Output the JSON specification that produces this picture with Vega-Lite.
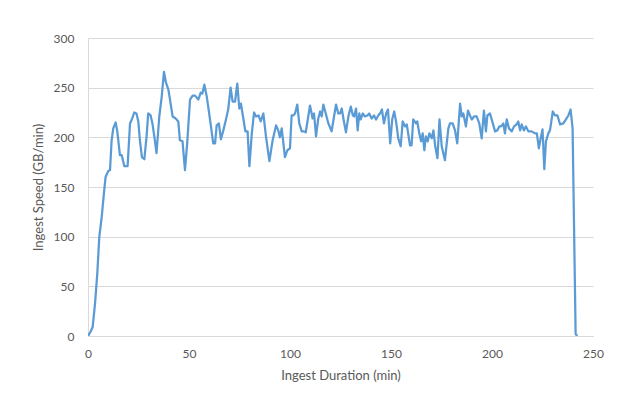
{
  "$schema": "https://vega.github.io/schema/vega-lite/v6.json",
  "width": 505,
  "height": 298,
  "autosize": "none",
  "padding": {"left": 88, "top": 38, "right": 25, "bottom": 58},
  "background": "white",
  "data": {"values": [
    {"t":0,"s":0},{"t":1.2,"s":4},{"t":2.3,"s":9},{"t":3.5,"s":33},{"t":4.6,"s":63},{"t":5.6,"s":100},{"t":6.8,"s":120},{"t":7.9,"s":144},{"t":8.7,"s":160},{"t":10,"s":166},{"t":10.9,"s":167},{"t":11.7,"s":197},{"t":12.5,"s":209},{"t":13.7,"s":215},{"t":14.5,"s":206},{"t":15.8,"s":182},{"t":16.7,"s":182},{"t":18,"s":171},{"t":19.6,"s":171},{"t":20.8,"s":214},{"t":21.9,"s":219},{"t":22.9,"s":225},{"t":24,"s":224},{"t":24.9,"s":216},{"t":25.7,"s":197},{"t":26.7,"s":180},{"t":27.9,"s":178},{"t":29,"s":201},{"t":29.8,"s":224},{"t":31,"s":222},{"t":31.9,"s":214},{"t":33.1,"s":197},{"t":33.9,"s":184},{"t":35.3,"s":221},{"t":36.5,"s":241},{"t":37.6,"s":266},{"t":38.6,"s":255},{"t":39.8,"s":248},{"t":40.9,"s":234},{"t":41.9,"s":221},{"t":43.4,"s":219},{"t":44.7,"s":216},{"t":45.5,"s":197},{"t":46.8,"s":196},{"t":48,"s":167},{"t":49.1,"s":194},{"t":50.5,"s":238},{"t":51.8,"s":242},{"t":53,"s":242},{"t":54.6,"s":238},{"t":55.8,"s":245},{"t":56.6,"s":244},{"t":57.6,"s":253},{"t":58.8,"s":241},{"t":60.4,"s":218},{"t":62,"s":194},{"t":62.9,"s":194},{"t":63.7,"s":212},{"t":64.8,"s":214},{"t":65.8,"s":198},{"t":67,"s":207},{"t":68.3,"s":218},{"t":69.4,"s":228},{"t":70.6,"s":250},{"t":71.6,"s":236},{"t":72.8,"s":236},{"t":73.9,"s":254},{"t":74.9,"s":229},{"t":75.7,"s":234},{"t":76.9,"s":219},{"t":77.9,"s":206},{"t":79,"s":206},{"t":79.9,"s":171},{"t":81.1,"s":204},{"t":82.2,"s":225},{"t":83.2,"s":221},{"t":84.4,"s":222},{"t":85.5,"s":216},{"t":86.8,"s":224},{"t":88.1,"s":201},{"t":89.8,"s":176},{"t":91.4,"s":197},{"t":93.1,"s":212},{"t":94.2,"s":207},{"t":95,"s":200},{"t":95.9,"s":209},{"t":97.5,"s":180},{"t":98.7,"s":187},{"t":100,"s":189},{"t":100.8,"s":222},{"t":101.6,"s":222},{"t":102.5,"s":224},{"t":103.6,"s":233},{"t":104.6,"s":214},{"t":105.8,"s":206},{"t":106.9,"s":206},{"t":107.8,"s":205},{"t":108.8,"s":218},{"t":109.9,"s":232},{"t":111.2,"s":219},{"t":111.9,"s":224},{"t":112.9,"s":201},{"t":114,"s":219},{"t":114.9,"s":226},{"t":115.7,"s":221},{"t":116.5,"s":233},{"t":117.7,"s":224},{"t":119,"s":214},{"t":120.6,"s":206},{"t":121.8,"s":221},{"t":122.8,"s":233},{"t":123.9,"s":224},{"t":124.8,"s":224},{"t":125.6,"s":229},{"t":126.7,"s":216},{"t":127.7,"s":205},{"t":128.9,"s":221},{"t":130.1,"s":231},{"t":131.1,"s":222},{"t":131.7,"s":221},{"t":132.7,"s":229},{"t":133.5,"s":207},{"t":134.3,"s":224},{"t":135,"s":218},{"t":136,"s":224},{"t":137.1,"s":221},{"t":138.3,"s":222},{"t":139.2,"s":224},{"t":140.4,"s":219},{"t":141.6,"s":222},{"t":142.6,"s":218},{"t":143.7,"s":222},{"t":144.9,"s":225},{"t":145.5,"s":228},{"t":146.5,"s":214},{"t":147.6,"s":224},{"t":148.5,"s":228},{"t":149.6,"s":194},{"t":150.6,"s":218},{"t":151.6,"s":226},{"t":152.5,"s":216},{"t":153.6,"s":199},{"t":154.8,"s":191},{"t":155.8,"s":216},{"t":156.9,"s":211},{"t":157.8,"s":213},{"t":159.4,"s":192},{"t":160.2,"s":192},{"t":161,"s":218},{"t":162.4,"s":214},{"t":163,"s":216},{"t":164,"s":204},{"t":164.9,"s":196},{"t":165.7,"s":204},{"t":166.5,"s":187},{"t":167.3,"s":201},{"t":168.2,"s":196},{"t":169,"s":204},{"t":170.2,"s":199},{"t":171,"s":207},{"t":171.9,"s":191},{"t":173,"s":179},{"t":174,"s":218},{"t":175.1,"s":191},{"t":176.7,"s":177},{"t":178.4,"s":209},{"t":179.2,"s":214},{"t":180.5,"s":214},{"t":181.7,"s":207},{"t":182.8,"s":194},{"t":184.2,"s":234},{"t":185,"s":221},{"t":185.8,"s":224},{"t":187.1,"s":211},{"t":188.1,"s":227},{"t":189.1,"s":222},{"t":190,"s":218},{"t":191.1,"s":221},{"t":192.4,"s":221},{"t":193.7,"s":214},{"t":194.9,"s":199},{"t":196,"s":227},{"t":197,"s":206},{"t":197.7,"s":222},{"t":199,"s":224},{"t":200.4,"s":214},{"t":201.5,"s":206},{"t":202.6,"s":207},{"t":203.6,"s":211},{"t":204.5,"s":211},{"t":205.6,"s":214},{"t":206.4,"s":204},{"t":207.3,"s":218},{"t":208.4,"s":209},{"t":209.8,"s":206},{"t":210.9,"s":211},{"t":212.2,"s":213},{"t":213,"s":216},{"t":213.9,"s":207},{"t":214.7,"s":213},{"t":215.8,"s":207},{"t":216.8,"s":211},{"t":218,"s":206},{"t":219.6,"s":206},{"t":221.3,"s":204},{"t":222.2,"s":204},{"t":223.2,"s":189},{"t":224.1,"s":199},{"t":225,"s":208},{"t":225.9,"s":168},{"t":226.7,"s":196},{"t":227.9,"s":204},{"t":228.7,"s":207},{"t":230.1,"s":226},{"t":231.2,"s":222},{"t":232.4,"s":222},{"t":233.7,"s":213},{"t":235.3,"s":214},{"t":236.6,"s":218},{"t":237.8,"s":222},{"t":238.9,"s":228},{"t":239.9,"s":209},{"t":241.4,"s":2},{"t":242.2,"s":0}
  ]},
  "mark": {"type": "line", "color": "#5B9BD5", "strokeWidth": 2.25, "strokeJoin": "round", "clip": true},
  "encoding": {
    "x": {"field": "t", "type": "quantitative", "title": "Ingest Duration (min)",
      "scale": {"domain": [0, 250], "nice": false},
      "axis": {"values": [0, 50, 100, 150, 200, 250], "grid": false, "ticks": false, "labelFlush": false, "labelPadding": 12, "titlePadding": 10}},
    "y": {"field": "s", "type": "quantitative", "title": "Ingest Speed (GB/min)",
      "scale": {"domain": [0, 300], "nice": false},
      "axis": {"values": [0, 50, 100, 150, 200, 250, 300], "grid": true, "ticks": false, "labelFlush": false, "labelPadding": 14, "titlePadding": 8}}
  },
  "config": {
    "view": {"stroke": null},
    "axis": {
      "domainColor": "#D9D9D9",
      "domainWidth": 1,
      "gridColor": "#D9D9D9",
      "gridWidth": 1,
      "labelFont": "Lato",
      "labelFontSize": 12,
      "labelColor": "#595959",
      "titleFont": "Lato",
      "titleFontSize": 13,
      "titleFontWeight": "normal",
      "titleColor": "#595959"
    }
  }
}
